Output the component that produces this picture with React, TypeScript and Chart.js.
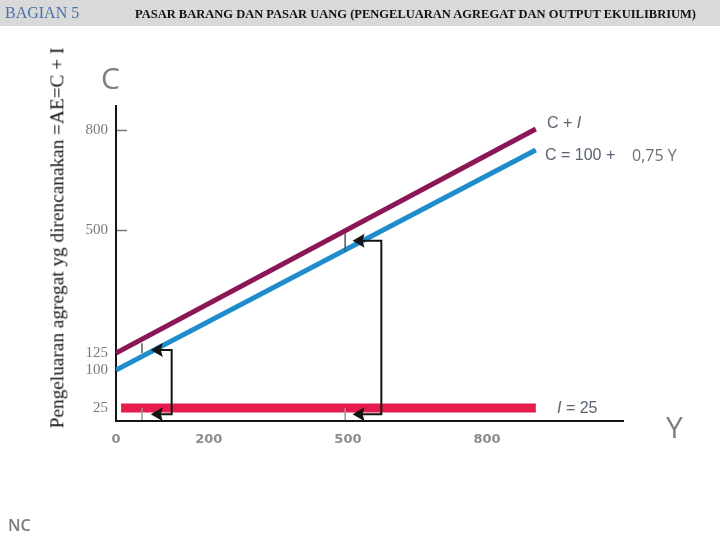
import React, { useEffect, useRef } from 'react';
import { Chart, registerables, LinearScale } from 'chart.js';

// ---- data ----
const outputX = [0, 905];
const consumption = [100, 740];
const consumptionPlusInvestment = [125, 803];
const investmentX = [11, 905];
const investment = [25, 25];
const xTicks = [0, 200, 500, 800];
const yTicks = [25, 100, 125, 500, 800];
const yMarkedTicks = [500, 800];

// multiplier step brackets (arrow tip x, right edge x, top y, bottom y)
const stepTipX = [75, 510];
const stepRightX = [120, 572];
const stepTopY = [134, 467];
const stepBottomY = [13, 13];
// small grey markers next to the steps
const markX = [56, 494];
const markUpperLow = [125, 433];
const markUpperHigh = [155, 491];
const markLowerLow = [2, 2];
const markLowerHigh = [25, 25];

// schematic (broken) vertical scale of the textbook figure: [value, fraction of axis]
const Y_BREAKS: [number, number][] = [
  [0, 0],
  [25, 0.0413],
  [100, 0.1619],
  [125, 0.2159],
  [500, 0.6063],
  [800, 0.9238],
  [872, 1],
];

class BrokenLinearScale extends LinearScale {
  static id = 'brokenLinear';
  static defaults = LinearScale.defaults;
  toDec(v: number) {
    const b = Y_BREAKS;
    if (v <= b[0][0]) return b[0][1] + (v - b[0][0]) * (b[1][1] - b[0][1]) / (b[1][0] - b[0][0]);
    for (let i = 1; i < b.length; i++) {
      if (v <= b[i][0]) {
        const [v0, d0] = b[i - 1];
        const [v1, d1] = b[i];
        return d0 + (v - v0) * (d1 - d0) / (v1 - v0);
      }
    }
    const n = b.length;
    return b[n - 1][1] + (v - b[n - 1][0]) * (b[n - 1][1] - b[n - 2][1]) / (b[n - 1][0] - b[n - 2][0]);
  }
  fromDec(d: number) {
    const b = Y_BREAKS;
    for (let i = 1; i < b.length; i++) {
      if (d <= b[i][1] || i === b.length - 1) {
        const [v0, d0] = b[i - 1];
        const [v1, d1] = b[i];
        return v0 + (d - d0) * (v1 - v0) / (d1 - d0);
      }
    }
    return 0;
  }
  getPixelForValue(value: any) {
    if (value === null || value === undefined || isNaN(value)) return NaN;
    return this.getPixelForDecimal(this.toDec(value));
  }
  getValueForPixel(pixel: number) {
    return this.fromDec(this.getDecimalForPixel(pixel));
  }
}

Chart.register(...registerables, BrokenLinearScale as any);

const PURPLE = '#8c1757';
const BLUE = '#1f8dcc';
const RED = '#e51b4e';

const stepsPlugin = {
  id: 'stepsPlugin',
  afterDatasetsDraw(chart: any) {
    const { ctx, scales, chartArea } = chart;
    const xs = scales.x;
    const ys = scales.y;
    ctx.save();
    // arrow heads
    ctx.fillStyle = '#151515';
    for (let i = 0; i < stepTipX.length; i++) {
      const x = xs.getPixelForValue(stepTipX[i]);
      for (const v of [stepTopY[i], stepBottomY[i]]) {
        const y = ys.getPixelForValue(v);
        ctx.beginPath();
        ctx.moveTo(x, y);
        ctx.lineTo(x + 12, y - 7);
        ctx.lineTo(x + 10, y);
        ctx.lineTo(x + 12, y + 7);
        ctx.closePath();
        ctx.fill();
      }
    }
    // small inside tick marks on the vertical axis
    ctx.strokeStyle = '#777';
    ctx.lineWidth = 1.5;
    for (const v of yMarkedTicks) {
      const y = Math.round(ys.getPixelForValue(v)) + 0.5;
      ctx.beginPath();
      ctx.moveTo(chartArea.left + 1, y);
      ctx.lineTo(chartArea.left + 11, y);
      ctx.stroke();
    }
    ctx.restore();
  },
};

const lineDs = (data: { x: number; y: number }[], color: string, width: number) => ({
  data,
  borderColor: color,
  backgroundColor: color,
  borderWidth: width,
  pointRadius: 0,
  borderCapStyle: 'butt',
  tension: 0,
  fill: false,
});

function Txt(props: { x: number; cy: number; size: number; color: string; family: string; weight?: string | number; children: any; italic?: boolean }) {
  return (
    <div
      style={{
        position: 'absolute',
        left: props.x,
        top: props.cy,
        transform: 'translateY(-50%)',
        fontSize: props.size,
        lineHeight: 1,
        color: props.color,
        fontFamily: props.family,
        fontWeight: props.weight as any,
        fontStyle: props.italic ? 'italic' : 'normal',
        whiteSpace: 'nowrap',
      }}
    >
      {props.children}
    </div>
  );
}

export default function App() {
  const ref = useRef<HTMLCanvasElement>(null);

  useEffect(() => {
    document.body.style.margin = '0';
    const canvas = ref.current!;
    const datasets: any[] = [];
    for (let i = 0; i < stepTipX.length; i++) {
      datasets.push(
        lineDs(
          [
            { x: stepTipX[i] + 10, y: stepTopY[i] },
            { x: stepRightX[i], y: stepTopY[i] },
            { x: stepRightX[i], y: stepBottomY[i] },
            { x: stepTipX[i] + 10, y: stepBottomY[i] },
          ],
          '#151515',
          2
        )
      );
    }
    for (let i = 0; i < markX.length; i++) {
      datasets.push(lineDs([{ x: markX[i], y: markUpperLow[i] }, { x: markX[i], y: markUpperHigh[i] }], '#555', 1.5));
      datasets.push(lineDs([{ x: markX[i], y: markLowerLow[i] }, { x: markX[i], y: markLowerHigh[i] }], '#999', 1.5));
    }
    datasets.push(lineDs(outputX.map((x, i) => ({ x, y: consumptionPlusInvestment[i] })), PURPLE, 5));
    datasets.push(lineDs(outputX.map((x, i) => ({ x, y: consumption[i] })), BLUE, 5));
    datasets.push(lineDs(investmentX.map((x, i) => ({ x, y: investment[i] })), RED, 9));

    const chart = new Chart(canvas, {
      type: 'line',
      data: { datasets },
      options: {
        responsive: false,
        animation: false,
        events: [],
        layout: { padding: { left: 0, top: 106, right: 97, bottom: 0 } },
        plugins: { legend: { display: false }, tooltip: { enabled: false } },
        scales: {
          x: {
            type: 'linear',
            min: 0,
            max: 1093,
            grid: { display: false },
            border: { display: true, color: '#151515', width: 2 },
            afterBuildTicks: (s: any) => {
              s.ticks = xTicks.map((v) => ({ value: v }));
            },
            afterFit: (s: any) => {
              s.height = 119;
            },
            ticks: {
              color: '#8c8c8c',
              font: { family: 'DejaVu Sans', size: 13, weight: 'bold' },
              padding: 3,
              maxRotation: 0,
              autoSkip: false,
            },
          },
          y: {
            type: 'brokenLinear' as any,
            min: 0,
            max: 872,
            grid: { display: false },
            border: { display: true, color: '#151515', width: 2 },
            afterBuildTicks: (s: any) => {
              s.ticks = yTicks.map((v) => ({ value: v }));
            },
            afterFit: (s: any) => {
              s.width = 116;
            },
            ticks: {
              color: '#7a7a7a',
              font: { family: 'Liberation Serif', size: 15 },
              padding: 0,
              autoSkip: false,
            },
          },
        },
      } as any,
      plugins: [stepsPlugin],
    });
    return () => chart.destroy();
  }, []);

  return (
    <div style={{ position: 'fixed', left: 0, top: 0, width: 720, height: 540, background: '#fff', overflow: 'hidden' }}>
      <div style={{ position: 'absolute', left: 0, top: 0, width: 720, height: 26, background: '#d9d9d9' }} />
      <canvas ref={ref} width={720} height={540} style={{ position: 'absolute', left: 0, top: 0 }} />
      <Txt x={5} cy={13} size={16} color="#4a6ea8" family="'Liberation Serif', serif">BAGIAN 5</Txt>
      <Txt x={135} cy={14} size={12.5} color="#111" family="'Liberation Serif', serif" weight="bold">
        PASAR BARANG DAN PASAR UANG (PENGELUARAN AGREGAT DAN OUTPUT EKUILIBRIUM)
      </Txt>
      <div
        style={{
          position: 'absolute',
          left: 57,
          top: 238,
          transform: 'translate(-50%, -50%) rotate(-90deg)',
          fontFamily: "'Liberation Serif', serif",
          fontSize: 19.3,
          lineHeight: 1,
          color: '#111',
          whiteSpace: 'nowrap',
        }}
      >
        Pengeluaran agregat yg direncanakan =AE=C + I
      </div>
      <Txt x={101} cy={78} size={30} color="#7f7f7f" family="'Open Sans', sans-serif">C</Txt>
      <Txt x={666} cy={427} size={30} color="#7f7f7f" family="'Open Sans', sans-serif">Y</Txt>
      <Txt x={8} cy={525} size={16} color="#7a7a7a" family="'Open Sans', sans-serif" weight={600}>NC</Txt>
      <Txt x={547} cy={123} size={16} color="#5b6370" family="'Liberation Sans', sans-serif">
        C + <i>I</i>
      </Txt>
      <Txt x={545} cy={155} size={16} color="#5b6370" family="'Liberation Sans', sans-serif">C = 100 +</Txt>
      <Txt x={632} cy={155} size={16} color="#6f6f6f" family="'Open Sans', sans-serif">0,75 Y</Txt>
      <Txt x={557} cy={408} size={16} color="#5b6370" family="'Liberation Sans', sans-serif">
        <i>I</i> = 25
      </Txt>
    </div>
  );
}
